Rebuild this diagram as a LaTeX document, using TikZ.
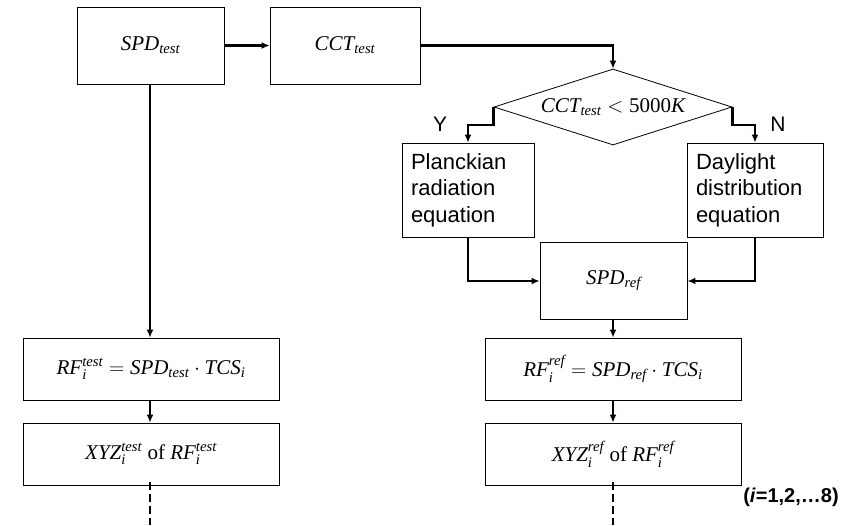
\RequirePackage{fix-cm}
\documentclass[tikz,border=0pt]{standalone}
\usepackage{amsmath}
\usepackage{fontspec}
\setmainfont{Liberation Serif}
\newfontfamily\arial{Liberation Sans}
\usetikzlibrary{shapes.geometric,arrows.meta}
\newcommand\mi[1]{\textit{#1}}
\begin{document}
\begin{tikzpicture}[x=1pt,y=-1pt,
  box/.style={draw, line width=0.8pt, minimum width=147pt, minimum height=77pt, inner sep=0pt, font=\fontsize{21}{25}\selectfont},
  wbox/.style={box, minimum width=256pt, minimum height=62pt},
  tbox/.style={draw, line width=0.8pt, minimum height=94pt, align=left, font=\arial\fontsize{22}{26.5}\selectfont, inner xsep=9pt, inner ysep=0pt},
  conn/.style={line width=2.4pt, -{Latex[length=8pt,width=7pt]}},
  dashln/.style={line width=2.4pt, dash pattern=on 8pt off 4pt},
  lab/.style={font=\arial\fontsize{21}{25}\selectfont}
]
\useasboundingbox (0,0) rectangle (866,525);

\node[box] (spdt) at (150.5,45.5) {$\mi{SPD}_{\mi{test}}$};
\node[box, minimum width=150pt] (cct) at (345,45.5) {$\mi{CCT}_{\mi{test}}$};
\node[draw, diamond, line width=0.8pt, minimum width=238pt, minimum height=76pt, inner sep=0pt, aspect=3.13, font=\fontsize{21}{25}\selectfont] (dec) at (613,107) {\raisebox{3pt}{$\mi{CCT}_{\mi{test}} < \textrm{5000}\mi{K}$}};
\node[tbox, minimum width=132pt, text width=114pt] (pl) at (468,190) {Planckian\\radiation\\equation};
\node[tbox, minimum width=136pt, text width=118pt] (dl) at (755,190) {Daylight\\distribution\\equation};
\node[box] (spdr) at (613.5,281) {$\mi{SPD}_{\mi{ref}}$};

\node[wbox] (rft) at (151,369) {$\mi{RF}_{\mi{i}}^{\mi{test}} = \mi{SPD}_{\mi{test}}\cdot \mi{TCS}_{\mi{i}}$};
\node[wbox] (xyzt) at (151,454) {$\mi{XYZ}_{\mi{i}}^{\mi{test}}$ of $\mi{RF}_{\mi{i}}^{\mi{test}}$};
\node[wbox] (rfr) at (613,369) {$\mi{RF}_{\mi{i}}^{\mi{ref}} = \mi{SPD}_{\mi{ref}}\cdot \mi{TCS}_{\mi{i}}$};
\node[wbox] (xyzr) at (613,454) {$\mi{XYZ}_{\mi{i}}^{\mi{ref}}$ of $\mi{RF}_{\mi{i}}^{\mi{ref}}$};

\node[lab] (ylab) at (440,124) {Y};
\node[lab] (nlab) at (778,124) {N};
\node[font=\arial\bfseries\fontsize{20}{24}\selectfont] (note) at (791,497) {(\textit{i}=1,2,…8)};

\coordinate (endl) at (150,525);
\coordinate (endr) at (613,525);

\draw[conn] (spdt) -- (cct);
\draw[conn] (cct.east) -| (dec.north);
\draw[conn] (dec.west) -- ++(0,18) -| (pl.north);
\draw[conn] (dec.east) -- ++(0,18) -| (dl.north);
\draw[conn] (pl.south) |- (spdr.west);
\draw[conn] (dl.south) |- (spdr.east);
\draw[conn] (spdt.south -| endl) -- (rft.north -| endl);
\draw[conn] (rft.south -| endl) -- (xyzt.north -| endl);
\draw[conn] (spdr.south -| endr) -- (rfr.north -| endr);
\draw[conn] (rfr.south -| endr) -- (xyzr.north -| endr);
\draw[dashln] ([yshift=3pt]xyzt.south -| endl) -- (endl);
\draw[dashln] ([yshift=3pt]xyzr.south -| endr) -- (endr);
\end{tikzpicture}
\end{document}
